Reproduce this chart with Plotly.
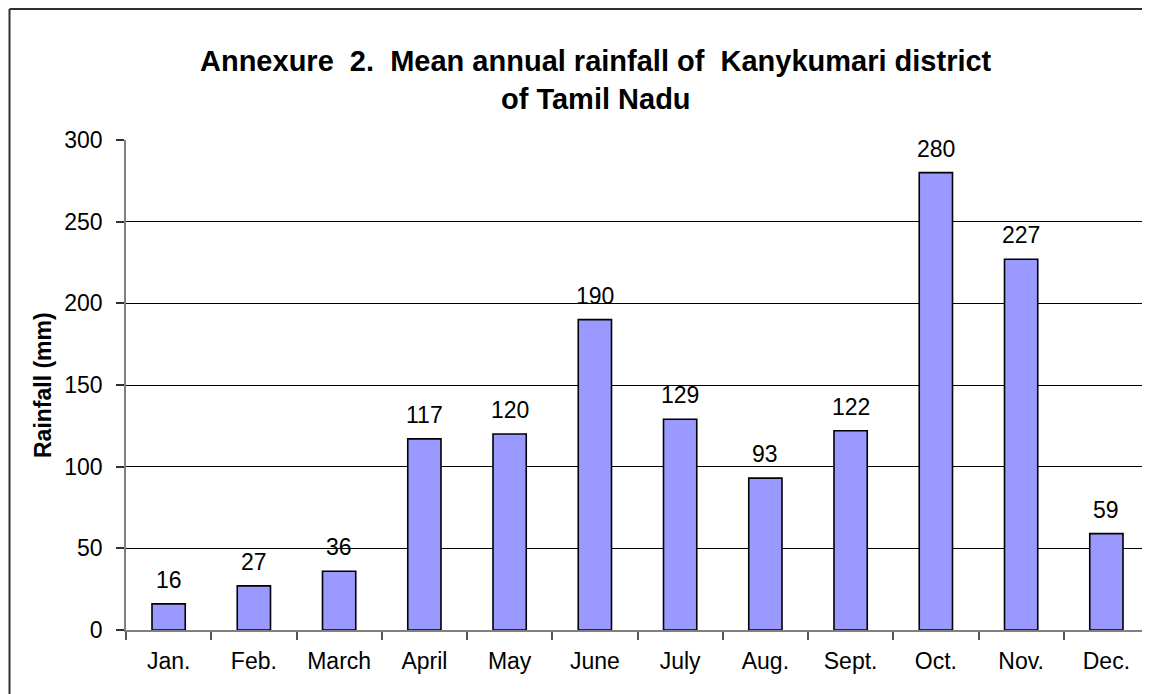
import plotly.graph_objects as go

months = ["Jan.", "Feb.", "March", "April", "May", "June", "July", "Aug.", "Sept.", "Oct.", "Nov.", "Dec."]
rainfall = [16, 27, 36, 117, 120, 190, 129, 93, 122, 280, 227, 59]
y_ticks = [0, 50, 100, 150, 200, 250, 300]

title_line1 = "Annexure  2.  Mean annual rainfall of  Kanykumari district"
title_line2 = "of Tamil Nadu"
y_title = "Rainfall (mm)"

FONT = "Liberation Sans, Arial, sans-serif"

# page body has an 8px margin; figure coordinates are screen coordinates minus 8
OFF = 8
W, H = 1150 - OFF, 694 - OFF
L, R, T, B = 126 - OFF, 1, 140 - OFF, 64
pw = W - L - R
ph = H - T - B

def px_x(sx):
    return (sx - OFF - L) / pw

def px_y(sy):
    return (H - B - (sy - OFF)) / ph

fig = go.Figure()
fig.add_trace(go.Bar(
    x=months, y=rainfall,
    marker=dict(color="#9999FF", line=dict(color="black", width=1.6)),
    hoverinfo="x+y",
))

annotations = []
for m, v in zip(months, rainfall):
    annotations.append(dict(
        x=m, y=v, xref="x", yref="y", text=str(v), showarrow=False,
        yanchor="bottom", yshift=9,
        font=dict(family=FONT, size=23, color="black"),
    ))

annotations.append(dict(
    x=px_x(596), y=px_y(61), xref="paper", yref="paper", text="<b>%s</b>" % title_line1,
    showarrow=False, xanchor="center", yanchor="middle",
    font=dict(family=FONT, size=29, color="black"),
))
annotations.append(dict(
    x=px_x(596), y=px_y(99), xref="paper", yref="paper", text="<b>%s</b>" % title_line2,
    showarrow=False, xanchor="center", yanchor="middle",
    font=dict(family=FONT, size=29, color="black"),
))
annotations.append(dict(
    x=px_x(43), y=px_y(385), xref="paper", yref="paper", text="<b>%s</b>" % y_title,
    showarrow=False, xanchor="center", yanchor="middle", textangle=-90,
    font=dict(family=FONT, size=23, color="black"),
))

shapes = [
    dict(type="line", xref="paper", yref="paper",
         x0=px_x(9.5), x1=px_x(1200), y0=px_y(9), y1=px_y(9),
         line=dict(color="#303030", width=2)),
    dict(type="line", xref="paper", yref="paper",
         x0=px_x(9.5), x1=px_x(9.5), y0=px_y(9), y1=px_y(720),
         line=dict(color="#303030", width=2)),
]

fig.update_layout(
    width=W, height=H,
    margin=dict(l=L, r=R, t=T, b=B, pad=0),
    paper_bgcolor="white", plot_bgcolor="white",
    bargap=0.61,
    showlegend=False,
    annotations=annotations,
    shapes=shapes,
    font=dict(family=FONT, size=23, color="black"),
)
fig.update_xaxes(
    showline=True, linecolor="#808080", linewidth=1.5,
    ticks="outside", tickson="boundaries", ticklen=8, tickcolor="#555555", tickwidth=1.5,
    tickfont=dict(family=FONT, size=23, color="black"),
    ticklabelstandoff=10,
    showgrid=False, zeroline=False,
)
fig.update_yaxes(
    range=[0, 300], tickvals=y_ticks,
    showline=True, linecolor="#808080", linewidth=1.5,
    ticks="outside", ticklen=8, tickcolor="#333333", tickwidth=1.5,
    tickfont=dict(family=FONT, size=23, color="black"),
    ticklabelstandoff=9,
    showgrid=True, gridcolor="black", gridwidth=1.2,
    zeroline=False,
)

fig.write_html("out.html")
